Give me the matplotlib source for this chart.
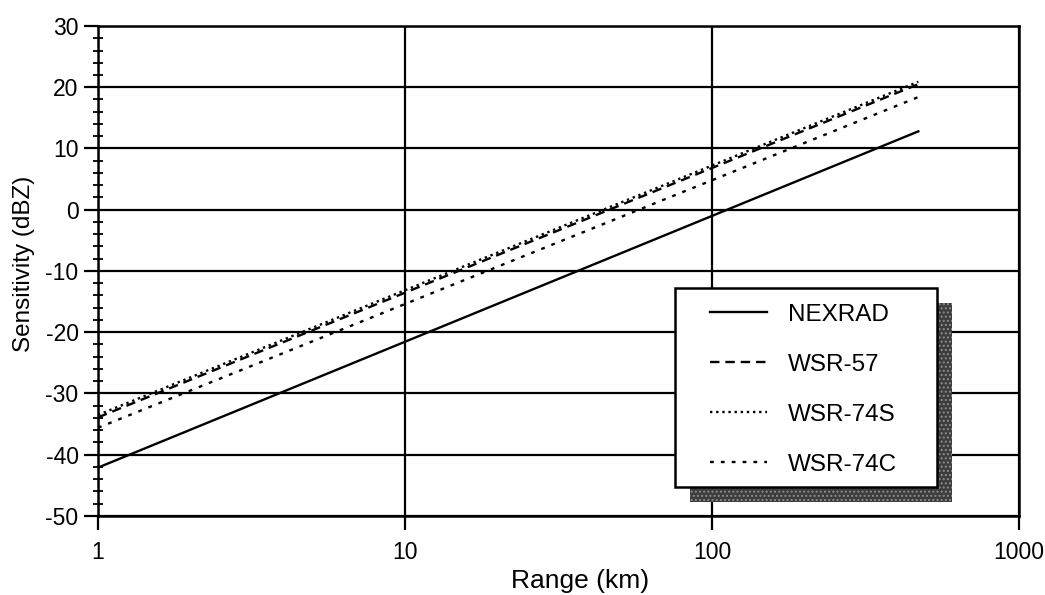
import matplotlib
matplotlib.use('Agg')
import matplotlib.pyplot as plt
from matplotlib.patches import Rectangle
from matplotlib.ticker import FixedLocator, NullLocator, MultipleLocator

plt.rcParams['font.family'] = ['Liberation Sans', 'DejaVu Sans']
plt.rcParams['axes.unicode_minus'] = False

# straight lines on log axes: end points
names = ['NEXRAD', 'WSR-57', 'WSR-74S', 'WSR-74C']
range_km = [1, 470]
nexrad = [-42.1, 12.8]
wsr57 = [-33.9, 20.5]
wsr74s = [-33.5, 20.9]
wsr74c = [-35.6, 18.4]
series = [nexrad, wsr57, wsr74s, wsr74c]
styles = ['-', (0, (4, 2.5)), (0, (1, 1.6)), (0, (1.6, 3.0))]

x_ticks = [1, 10, 100, 1000]
x_labels = ['1', '10', '100', '1000']
y_ticks = list(range(-50, 31, 10))

fig = plt.figure(figsize=(10.45, 5.95), dpi=100)
ax = fig.add_axes([0.0938, 0.1328, 0.8813, 0.8235])

for name, vals, ls in zip(names, series, styles):
    ax.plot(range_km, vals, color='black', linestyle=ls, linewidth=1.7, label=name)

ax.set_xscale('log')
ax.set_xlim(1, 1000)
ax.set_ylim(-50, 30)
ax.xaxis.set_major_locator(FixedLocator(x_ticks))
ax.set_xticklabels(x_labels)
ax.xaxis.set_minor_locator(NullLocator())
ax.set_yticks(y_ticks)
ax.yaxis.set_minor_locator(MultipleLocator(2))
ax.grid(True, which='major', color='black', linewidth=1.6)
ax.set_axisbelow(True)

ax.tick_params(axis='both', which='major', direction='out', length=10, width=1.6,
               labelsize=16.5)
ax.tick_params(axis='x', which='major', pad=8)
ax.tick_params(axis='y', which='major', pad=4)
ax.tick_params(axis='y', which='minor', direction='inout', length=7, width=1.3)
for sp in ax.spines.values():
    sp.set_linewidth(1.8)

ax.set_xlabel('Range (km)', fontsize=19)
ax.xaxis.set_label_coords(0.523, -0.108)
ax.set_ylabel('Sensitivity (dBZ)', fontsize=17.5)
ax.yaxis.set_label_coords(-0.068, 0.514)

# legend box with offset stippled shadow
bx, by, bw, bh = 0.6265, 0.059, 0.2845, 0.406
ax.add_patch(Rectangle((bx + 0.0163, by - 0.0306), bw, bh, transform=ax.transAxes,
                       facecolor='#3c3c3c', edgecolor='#8c8c8c', linewidth=0,
                       hatch='....', zorder=4))
ax.add_patch(Rectangle((bx, by), bw, bh, transform=ax.transAxes,
                       facecolor='white', edgecolor='black', linewidth=1.8,
                       zorder=5))
leg = ax.legend(loc='upper left', bbox_to_anchor=(0.6645, 0.433),
                frameon=False, fontsize=17.5, handlelength=2.35, handletextpad=0.86,
                labelspacing=1.15, borderpad=0, borderaxespad=0)
leg.set_zorder(6)

fig.savefig('out.png', dpi=100)
